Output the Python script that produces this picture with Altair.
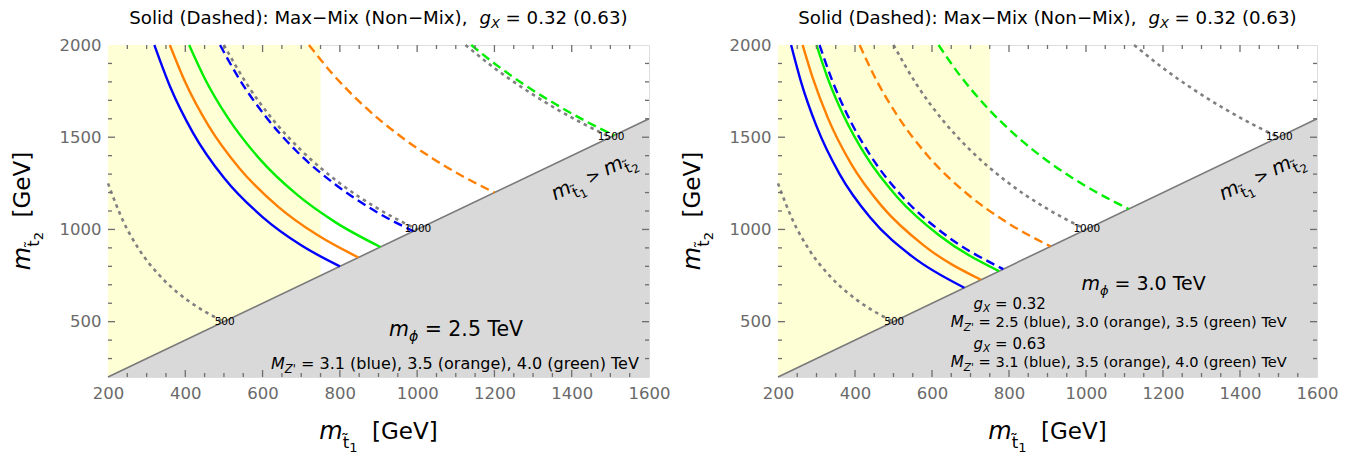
import altair as alt
import pandas as pd

FONT = "DejaVu Sans"

# ---------------- axes / regions ----------------
X_DOMAIN = [200, 1600]
Y_DOMAIN = [200, 2000]
X_LABELS = [200, 400, 600, 800, 1000, 1200, 1400, 1600]
Y_LABELS = [500, 1000, 1500, 2000]
X_MAJOR = [400, 600, 800, 1000, 1200, 1400]
X_MINOR = [250, 300, 350, 450, 500, 550, 650, 700, 750, 850, 900, 950,
           1050, 1100, 1150, 1250, 1300, 1350, 1450, 1500, 1550]
Y_MAJOR = [500, 1000, 1500]
Y_MINOR = [300, 400, 600, 700, 800, 900, 1100, 1200, 1300, 1400,
           1600, 1700, 1800, 1900]

DIAG_X = [200, 1600]          # m_t1 = m_t2 boundary
DIAG_Y = [200, 1600]
BAND_X = [200, 750]           # yellow band
BAND_Y = [200, 750]
BAND_TOP = [2000, 2000]
GRAY_BOTTOM = [200, 200]

# ---------------- gray dotted contours (same in both panels) ----------------
C500_X = [200, 240, 280, 330, 380, 440, 500]
C500_Y = [1250, 1042, 893, 758, 658, 568, 500]
C1000_X = [500, 560, 630, 700, 800, 900, 1000]
C1000_Y = [2000, 1786, 1587, 1429, 1250, 1111, 1000]
C1500_X = [1125, 1200, 1280, 1360, 1430, 1500]
C1500_Y = [2000, 1875, 1758, 1654, 1573, 1500]
CONTOUR_LABELS = ["500", "1000", "1500"]
CONTOUR_LABEL_X = [502, 1002, 1502]
CONTOUR_LABEL_Y = [500, 1001, 1503]

# ---------------- left panel (m_phi = 2.5 TeV) ----------------
L_BLUE_S_X = [320, 360, 420, 500, 600, 700, 800]
L_BLUE_S_Y = [2000, 1778, 1524, 1280, 1067, 914, 800]
L_ORANGE_S_X = [360, 400, 460, 540, 640, 740, 848]
L_ORANGE_S_Y = [2000, 1798, 1563, 1332, 1124, 972, 848]
L_GREEN_S_X = [410, 450, 510, 590, 690, 790, 905]
L_GREEN_S_Y = [2000, 1820, 1606, 1388, 1187, 1037, 905]
L_BLUE_D_X = [490, 540, 610, 690, 790, 890, 990]
L_BLUE_D_Y = [2000, 1815, 1607, 1420, 1241, 1101, 990]
L_ORANGE_D_X = [720, 780, 860, 950, 1040, 1120, 1200]
L_ORANGE_D_Y = [2000, 1846, 1674, 1516, 1385, 1286, 1200]
L_GREEN_D_X = [1140, 1200, 1280, 1360, 1440, 1510]
L_GREEN_D_Y = [2000, 1900, 1781, 1677, 1583, 1510]

# ---------------- right panel (m_phi = 3.0 TeV) ----------------
R_BLUE_S_X = [234, 260, 300, 360, 440, 550, 684]
R_BLUE_S_Y = [2000, 1799, 1560, 1300, 1063, 851, 684]
R_ORANGE_S_X = [264, 290, 330, 390, 470, 580, 727]
R_ORANGE_S_Y = [2000, 1823, 1602, 1355, 1125, 911, 727]
R_GREEN_S_X = [300, 330, 370, 430, 510, 620, 774]
R_GREEN_S_Y = [2000, 1815, 1619, 1393, 1175, 966, 774]
R_BLUE_D_X = [308, 340, 380, 440, 520, 630, 785]
R_BLUE_D_Y = [2000, 1812, 1622, 1401, 1185, 978, 785]
R_ORANGE_D_X = [412, 450, 510, 590, 690, 790, 908]
R_ORANGE_D_Y = [2000, 1832, 1617, 1397, 1195, 1044, 908]
R_GREEN_D_X = [617, 670, 740, 820, 910, 1010, 1111]
R_GREEN_D_Y = [2000, 1842, 1668, 1505, 1356, 1222, 1111]

BLUE, ORANGE, GREEN, GRAY = "#0000ff", "#ff8000", "#00ee00", "#808080"

LEFT_CURVES = [
    ("bs", BLUE, "solid", L_BLUE_S_X, L_BLUE_S_Y),
    ("os", ORANGE, "solid", L_ORANGE_S_X, L_ORANGE_S_Y),
    ("gs", GREEN, "solid", L_GREEN_S_X, L_GREEN_S_Y),
    ("bd", BLUE, "dashed", L_BLUE_D_X, L_BLUE_D_Y),
    ("od", ORANGE, "dashed", L_ORANGE_D_X, L_ORANGE_D_Y),
    ("gd", GREEN, "dashed", L_GREEN_D_X, L_GREEN_D_Y),
]
RIGHT_CURVES = [
    ("bs", BLUE, "solid", R_BLUE_S_X, R_BLUE_S_Y),
    ("os", ORANGE, "solid", R_ORANGE_S_X, R_ORANGE_S_Y),
    ("gs", GREEN, "solid", R_GREEN_S_X, R_GREEN_S_Y),
    ("bd", BLUE, "dashed", R_BLUE_D_X, R_BLUE_D_Y),
    ("od", ORANGE, "dashed", R_ORANGE_D_X, R_ORANGE_D_Y),
    ("gd", GREEN, "dashed", R_GREEN_D_X, R_GREEN_D_Y),
]
DOTTED = [("c500", C500_X, C500_Y), ("c1000", C1000_X, C1000_Y), ("c1500", C1500_X, C1500_Y)]

H = 332
W_LEFT, W_RIGHT = 541, 539

# approximate DejaVu Sans advance widths (per 1000 em) for composing rich text
CW = {' ': 318, '(': 390, ')': 390, ',': 318, '.': 318, ':': 337, '=': 838, '>': 838,
      '\u2212': 838, '[': 390, ']': 390, "'": 275, 'D': 770, 'G': 775, 'M': 863,
      'N': 748, 'S': 635, 'T': 611, 'V': 684, 'X': 685, 'Z': 685, 'a': 613, 'b': 635,
      'd': 635, 'e': 615, 'g': 635, 'h': 634, 'i': 278, 'l': 278, 'm': 974, 'n': 634,
      'o': 612, 'r': 411, 's': 521, 't': 392, 'u': 634, 'x': 592, '\u03d5': 660,
      '\u0303': 0}


def tw(s, size):
    return sum(CW.get(c, 636) for c in s) * size / 1000.0


XS = alt.Scale(domain=X_DOMAIN, nice=False, zero=False)
YS = alt.Scale(domain=Y_DOMAIN, nice=False, zero=False)
XAX = alt.Axis(values=X_LABELS, ticks=False, domain=False, grid=False, title=None,
               labelFont=FONT, labelFontSize=16.5, labelColor="#6a6a6a",
               labelPadding=8, labelFlush=False, format="d")
YAX = alt.Axis(values=Y_LABELS, ticks=False, domain=False, grid=False, title=None,
               labelFont=FONT, labelFontSize=16.5, labelColor="#6a6a6a",
               labelPadding=7, labelFlush=False, format="d")


def X(f):
    return alt.X(f, type="quantitative", scale=XS, axis=XAX)


def Y(f):
    return alt.Y(f, type="quantitative", scale=YS, axis=YAX)


def pieces_layers(df, xe, ye, pieces, angle=None, center=False, color="black"):
    total = sum(tw(t, s) for t, s, it, dy in pieces)
    cur = -total / 2.0 if center else 0.0
    out = []
    for t, s, it, dy in pieces:
        st = t.lstrip(" ")
        lead = tw(t[: len(t) - len(st)], s)
        kw = dict(align="left", baseline="alphabetic", font=FONT, fontSize=s,
                  fontStyle="italic" if it else "normal", dx=round(cur + lead, 1),
                  dy=dy, color=color)
        if angle is not None:
            kw["angle"] = angle
        out.append(alt.Chart(df.assign(t=st.rstrip(" "))).mark_text(**kw)
                   .encode(x=xe, y=ye, text="t:N"))
        cur += tw(t, s)
    return out


def panel(curves, width, annots):
    layers = []
    band = pd.DataFrame({"x": BAND_X, "y": BAND_Y, "y2": BAND_TOP})
    layers.append(alt.Chart(band).mark_area(color="#ffffd6", opacity=1)
                  .encode(x=X("x"), y=Y("y"), y2="y2"))
    gray = pd.DataFrame({"x": DIAG_X, "y": DIAG_Y, "y2": GRAY_BOTTOM})
    layers.append(alt.Chart(gray).mark_area(color="#d9d9d9", opacity=1)
                  .encode(x=X("x"), y=Y("y"), y2="y2"))
    diag = pd.DataFrame({"x": DIAG_X, "y": DIAG_Y})
    layers.append(alt.Chart(diag).mark_line(color="#7a7a7a", strokeWidth=1.6)
                  .encode(x=X("x"), y=Y("y")))

    drows = []
    for name, xs, ys in DOTTED:
        for a, b in zip(xs, ys):
            drows.append({"c": name, "x": a, "y": b})
    layers.append(alt.Chart(pd.DataFrame(drows))
                  .mark_line(color=GRAY, strokeWidth=2.6, strokeDash=[3.5, 4],
                             interpolate="monotone")
                  .encode(x=X("x"), y=Y("y"), detail="c:N"))

    for style, dash in [("solid", None), ("dashed", [9, 5])]:
        rows = []
        for name, col, st, xs, ys in curves:
            if st != style:
                continue
            for a, b in zip(xs, ys):
                rows.append({"c": name, "col": col, "x": a, "y": b})
        kw = dict(strokeWidth=2.4, interpolate="monotone")
        if dash:
            kw["strokeDash"] = dash
        layers.append(alt.Chart(pd.DataFrame(rows)).mark_line(**kw)
                      .encode(x=X("x"), y=Y("y"), detail="c:N",
                              color=alt.Color("col:N", scale=None)))

    labs = pd.DataFrame({"x": CONTOUR_LABEL_X, "y": CONTOUR_LABEL_Y, "t": CONTOUR_LABELS})
    layers.append(alt.Chart(labs).mark_text(font=FONT, fontSize=10.5, color="black",
                                            align="center", baseline="middle")
                  .encode(x=X("x"), y=Y("y"), text="t:N"))

    # region label m_t1 > m_t2 along the diagonal
    a = pd.DataFrame({"x": [1462], "y": [1262]})
    layers += pieces_layers(a, X("x"), Y("y"), [
        ("m", 20, True, 0), ("t\u0303", 15, False, 7), ("1", 11.5, False, 10),
        (" > ", 17, False, 0), ("m", 20, True, 0), ("t\u0303", 15, False, 7),
        ("2", 11.5, False, 10)], angle=334.5, center=True)

    # annotations
    for ax, ay, pcs in annots:
        d = pd.DataFrame({"x": [ax], "y": [ay]})
        layers += pieces_layers(d, X("x"), Y("y"), pcs)

    # panel title
    one = pd.DataFrame({"k": [0]})
    layers += pieces_layers(one, alt.value(width / 2.0), alt.value(-21), [
        ("Solid (Dashed): Max\u2212Mix (Non\u2212Mix),  ", 18.2, False, 0),
        ("g", 18.2, True, 0), ("X", 13, True, 4), (" = 0.32 (0.63)", 18.2, False, 0)],
        center=True)
    # x axis title
    layers += pieces_layers(one, alt.value(width / 2.0), alt.value(H + 62), [
        ("m", 24, True, 0), ("t\u0303", 16.5, False, 9), ("1", 13, False, 13),
        ("  [GeV]", 23, False, 0)], center=True)
    # y axis title
    layers += pieces_layers(one, alt.value(-78), alt.value(H / 2.0), [
        ("m", 24, True, 0), ("t\u0303", 16.5, False, 9), ("2", 13, False, 13),
        ("  [GeV]", 23, False, 0)], angle=270, center=True)

    # frame ticks (inward)
    tick = dict(color="#6e6e6e", strokeWidth=1.3)
    for vals, ln in [(X_MAJOR, 7), (X_MINOR, 4)]:
        d = pd.DataFrame({"v": vals})
        layers.append(alt.Chart(d).mark_rule(**tick).encode(
            x=X("v"), y=alt.value(H), y2=alt.value(H - ln)))
        layers.append(alt.Chart(d).mark_rule(**tick).encode(
            x=X("v"), y=alt.value(0), y2=alt.value(ln)))
    for vals, ln in [(Y_MAJOR, 7), (Y_MINOR, 4)]:
        d = pd.DataFrame({"v": vals})
        layers.append(alt.Chart(d).mark_rule(**tick).encode(
            y=Y("v"), x=alt.value(0), x2=alt.value(ln)))
        layers.append(alt.Chart(d).mark_rule(**tick).encode(
            y=Y("v"), x=alt.value(width), x2=alt.value(width - ln)))

    return alt.layer(*layers).properties(width=width, height=H)


LEFT_ANNOTS = [
    (927, 422, [("m", 20.5, True, 0), ("\u03d5", 14, True, 5), (" = 2.5 TeV", 20.5, False, 0)]),
    (622, 243, [("M", 16, True, 0), ("Z'", 11.5, True, 4),
                (" = 3.1 (blue), 3.5 (orange), 4.0 (green) TeV", 16, False, 0)]),
]
RIGHT_ANNOTS = [
    (988, 672, [("m", 19, True, 0), ("\u03d5", 13, True, 5), (" = 3.0 TeV", 19, False, 0)]),
    (708, 570, [("g", 15, True, 0), ("X", 10.5, True, 3), (" = 0.32", 15, False, 0)]),
    (649, 470, [("M", 15, True, 0), ("Z'", 10.5, True, 3.5),
                (" = 2.5 (blue), 3.0 (orange), 3.5 (green) TeV", 14.6, False, 0)]),
    (708, 352, [("g", 15, True, 0), ("X", 10.5, True, 3), (" = 0.63", 15, False, 0)]),
    (649, 254, [("M", 15, True, 0), ("Z'", 10.5, True, 3.5),
                (" = 3.1 (blue), 3.5 (orange), 4.0 (green) TeV", 14.6, False, 0)]),
]

left = panel(LEFT_CURVES, W_LEFT, LEFT_ANNOTS)
right = panel(RIGHT_CURVES, W_RIGHT, RIGHT_ANNOTS)

chart = (alt.hconcat(left, right, spacing=129, bounds="flush")
         .properties(padding={"left": 2, "top": 0, "right": 5, "bottom": 0})
         .configure_view(stroke="#8a8a8a", strokeWidth=1.5)
         .configure(background="white"))

chart.save("out.html", embed_options={"renderer": "svg", "actions": False})
